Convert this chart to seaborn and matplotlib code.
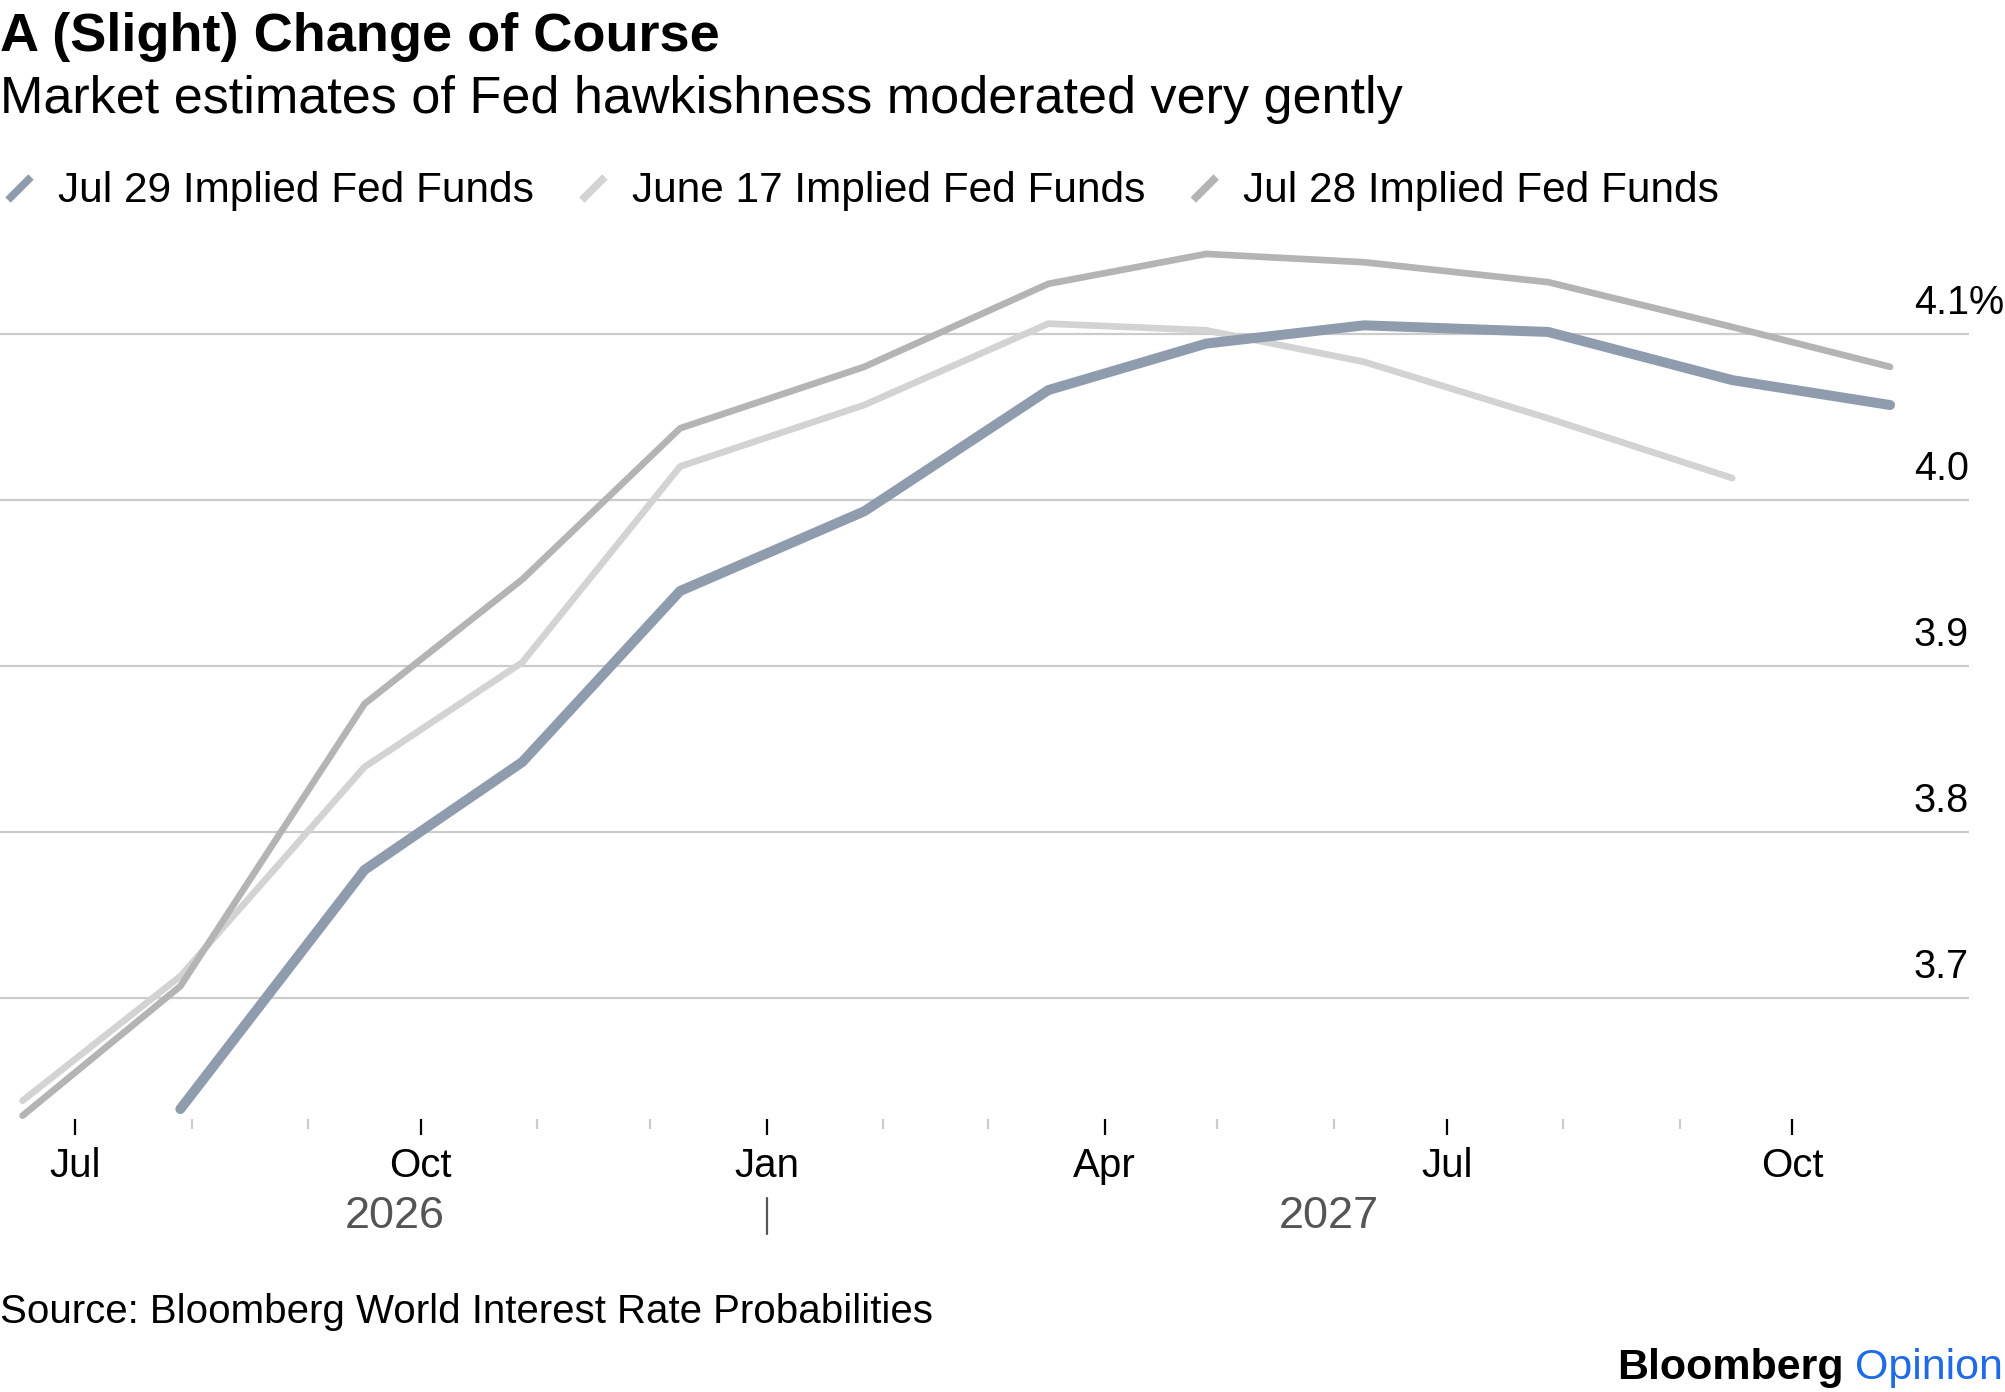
"""
A (Slight) Change of Course
Market-implied Fed funds path at each FOMC meeting, three snapshots.
"""

import pandas as pd
import numpy as np
import matplotlib
matplotlib.use("Agg")
import matplotlib.pyplot as plt
import matplotlib.transforms as mtransforms
from matplotlib.lines import Line2D
import seaborn as sns

# ==============================
# DATA
# ==============================

# FOMC meeting dates
meeting_dates = ["2026-06-17", "2026-07-29", "2026-09-16", "2026-10-28",
                 "2026-12-09", "2027-01-27", "2027-03-17", "2027-04-28",
                 "2027-06-09", "2027-07-28", "2027-09-15", "2027-10-27"]

jul29_implied = [None, 3.633, 3.777, 3.842, 3.945, 3.993,
                 4.066, 4.094, 4.105, 4.101, 4.072, 4.057]
june17_implied = [3.638, 3.713, 3.839, 3.902, 4.020, 4.057,
                  4.106, 4.102, 4.083, 4.049, 4.013, None]
jul28_implied = [3.629, 3.707, 3.877, 3.952, 4.043, 4.080,
                 4.130, 4.148, 4.143, 4.131, 4.104, 4.080]

series_names = ["Jul 29 Implied Fed Funds", "June 17 Implied Fed Funds",
                "Jul 28 Implied Fed Funds"]
series_colors = ["#8E9CAE", "#D3D3D3", "#B4B4B4"]
series_widths = [7.2, 4.8, 4.8]

y_ticks = [3.7, 3.8, 3.9, 4.0, 4.1]
y_tick_labels = ["3.7", "3.8", "3.9", "4.0", "4.1"]

title = "A (Slight) Change of Course"
subtitle = "Market estimates of Fed hawkishness moderated very gently"
source = "Source: Bloomberg World Interest Rate Probabilities"

# ==============================
# LAYOUT HELPERS (pixel positions)
# ==============================
FIG_W, FIG_H = 2005, 1392


def fx(px):
    return px / FIG_W


def fy(py):
    return 1 - py / FIG_H


AX_TOP, AX_BOTTOM, AX_RIGHT = 234, 1119, 1969


def main():
    df = pd.DataFrame({
        "date": pd.to_datetime(meeting_dates),
        series_names[0]: jul29_implied,
        series_names[1]: june17_implied,
        series_names[2]: jul28_implied,
    })
    long_df = df.melt(id_vars="date", var_name="series", value_name="rate").dropna()
    long_df["rate"] = long_df["rate"].astype(float)

    sns.set_theme(style="white")
    plt.rcParams["font.family"] = ["Liberation Sans", "DejaVu Sans"]
    plt.rcParams["text.color"] = "black"

    fig = plt.figure(figsize=(FIG_W / 100, FIG_H / 100), dpi=100)
    ax = fig.add_axes([0, fy(AX_BOTTOM), fx(AX_RIGHT), (AX_BOTTOM - AX_TOP) / FIG_H])

    # draw the lighter lines first, Jul 29 on top
    for i in [1, 2, 0]:
        sub = long_df[long_df["series"] == series_names[i]]
        sns.lineplot(data=sub, x="date", y="rate", ax=ax, color=series_colors[i],
                     linewidth=series_widths[i], legend=False, clip_on=False,
                     solid_capstyle="round", solid_joinstyle="round", zorder=3)

    ax.set_xlim(pd.Timestamp("2026-06-11"), pd.Timestamp("2027-11-17"))
    ax.set_ylim(3.627, 4.16)
    ax.set_xlabel("")
    ax.set_ylabel("")
    for sp in ax.spines.values():
        sp.set_visible(False)

    # y grid + labels sitting above the lines at right
    ax.set_yticks(y_ticks)
    ax.tick_params(axis="y", length=0, labelleft=False, labelright=False)
    ax.grid(axis="y", color="#cccccc", linewidth=1.6)
    ax.grid(axis="x", visible=False)
    ytrans = mtransforms.blended_transform_factory(ax.transAxes, ax.transData)
    ytrans = mtransforms.offset_copy(ytrans, fig=fig, y=14, units="points")
    for v, lab in zip(y_ticks, y_tick_labels):
        ax.text(1.0, v, lab, transform=ytrans, ha="right", va="baseline",
                fontsize=28.5, color="black")
    ax.text(1.0, y_ticks[-1], "%", transform=ytrans, ha="left", va="baseline",
            fontsize=28.5, color="black")

    # month ticks, only within data range
    first, last = df["date"].min(), df["date"].max()
    months = pd.date_range("2026-06-01", "2027-11-01", freq="MS")
    months = [m for m in months if first <= m <= last]
    major = [m for m in months if m.month in (1, 4, 7, 10)]
    minor = [m for m in months if m.month not in (1, 4, 7, 10)]
    ax.set_xticks(major)
    ax.set_xticklabels([m.strftime("%b") for m in major])
    ax.set_xticks(minor, minor=True)
    ax.tick_params(axis="x", which="major", bottom=True, length=11.5, width=1.6,
                   color="black", labelsize=29, labelcolor="black", pad=9)
    ax.tick_params(axis="x", which="minor", bottom=True, length=7, width=1.6,
                   color="#cccccc")

    # year labels, centred over each year's part of the data range
    xtrans = mtransforms.blended_transform_factory(ax.transData, ax.transAxes)
    year_y = (AX_BOTTOM - 1228) / (AX_BOTTOM - AX_TOP)
    for yr in sorted(df["date"].dt.year.unique()):
        start = max(first, pd.Timestamp(f"{yr}-01-01"))
        end = min(last, pd.Timestamp(f"{yr + 1}-01-01"))
        mid = start + (end - start) / 2
        ax.text(mid, year_y, str(yr), transform=xtrans, ha="center", va="baseline",
                fontsize=32.5, color="#555555")
        if yr > first.year:
            jan1 = pd.Timestamp(f"{yr}-01-01")
            ax.plot([jan1, jan1],
                    [(AX_BOTTOM - 1198) / (AX_BOTTOM - AX_TOP),
                     (AX_BOTTOM - 1234) / (AX_BOTTOM - AX_TOP)],
                    transform=xtrans, color="#555555", lw=1.6, clip_on=False)

    # titles
    fig.text(0, fy(51), title, fontsize=39, fontweight="bold", va="baseline", ha="left")
    fig.text(0, fy(113), subtitle, fontsize=37.5, va="baseline", ha="left")

    # legend: slanted swatch + label
    fig.canvas.draw()
    renderer = fig.canvas.get_renderer()
    x = 6
    for name, col in zip(series_names, series_colors):
        fig.add_artist(Line2D([fx(x + 2), fx(x + 25)], [fy(200), fy(177)],
                              color=col, lw=5.5, solid_capstyle="butt"))
        t = fig.text(fx(x + 52), fy(202), name, fontsize=30.5, va="baseline", ha="left")
        bb = t.get_window_extent(renderer)
        x = bb.x1 + 46

    # source and branding
    fig.text(0, fy(1323), source, fontsize=29, va="baseline", ha="left")
    op = fig.text(fx(2003), fy(1379), "Opinion", fontsize=31, color="#1F6AE6",
                  va="baseline", ha="right")
    bb = op.get_window_extent(renderer)
    fig.text(fx(bb.x0 - 11), fy(1379), "Bloomberg", fontsize=31, fontweight="bold",
             va="baseline", ha="right")

    fig.savefig("out.png", dpi=100, facecolor="white")


if __name__ == "__main__":
    main()
